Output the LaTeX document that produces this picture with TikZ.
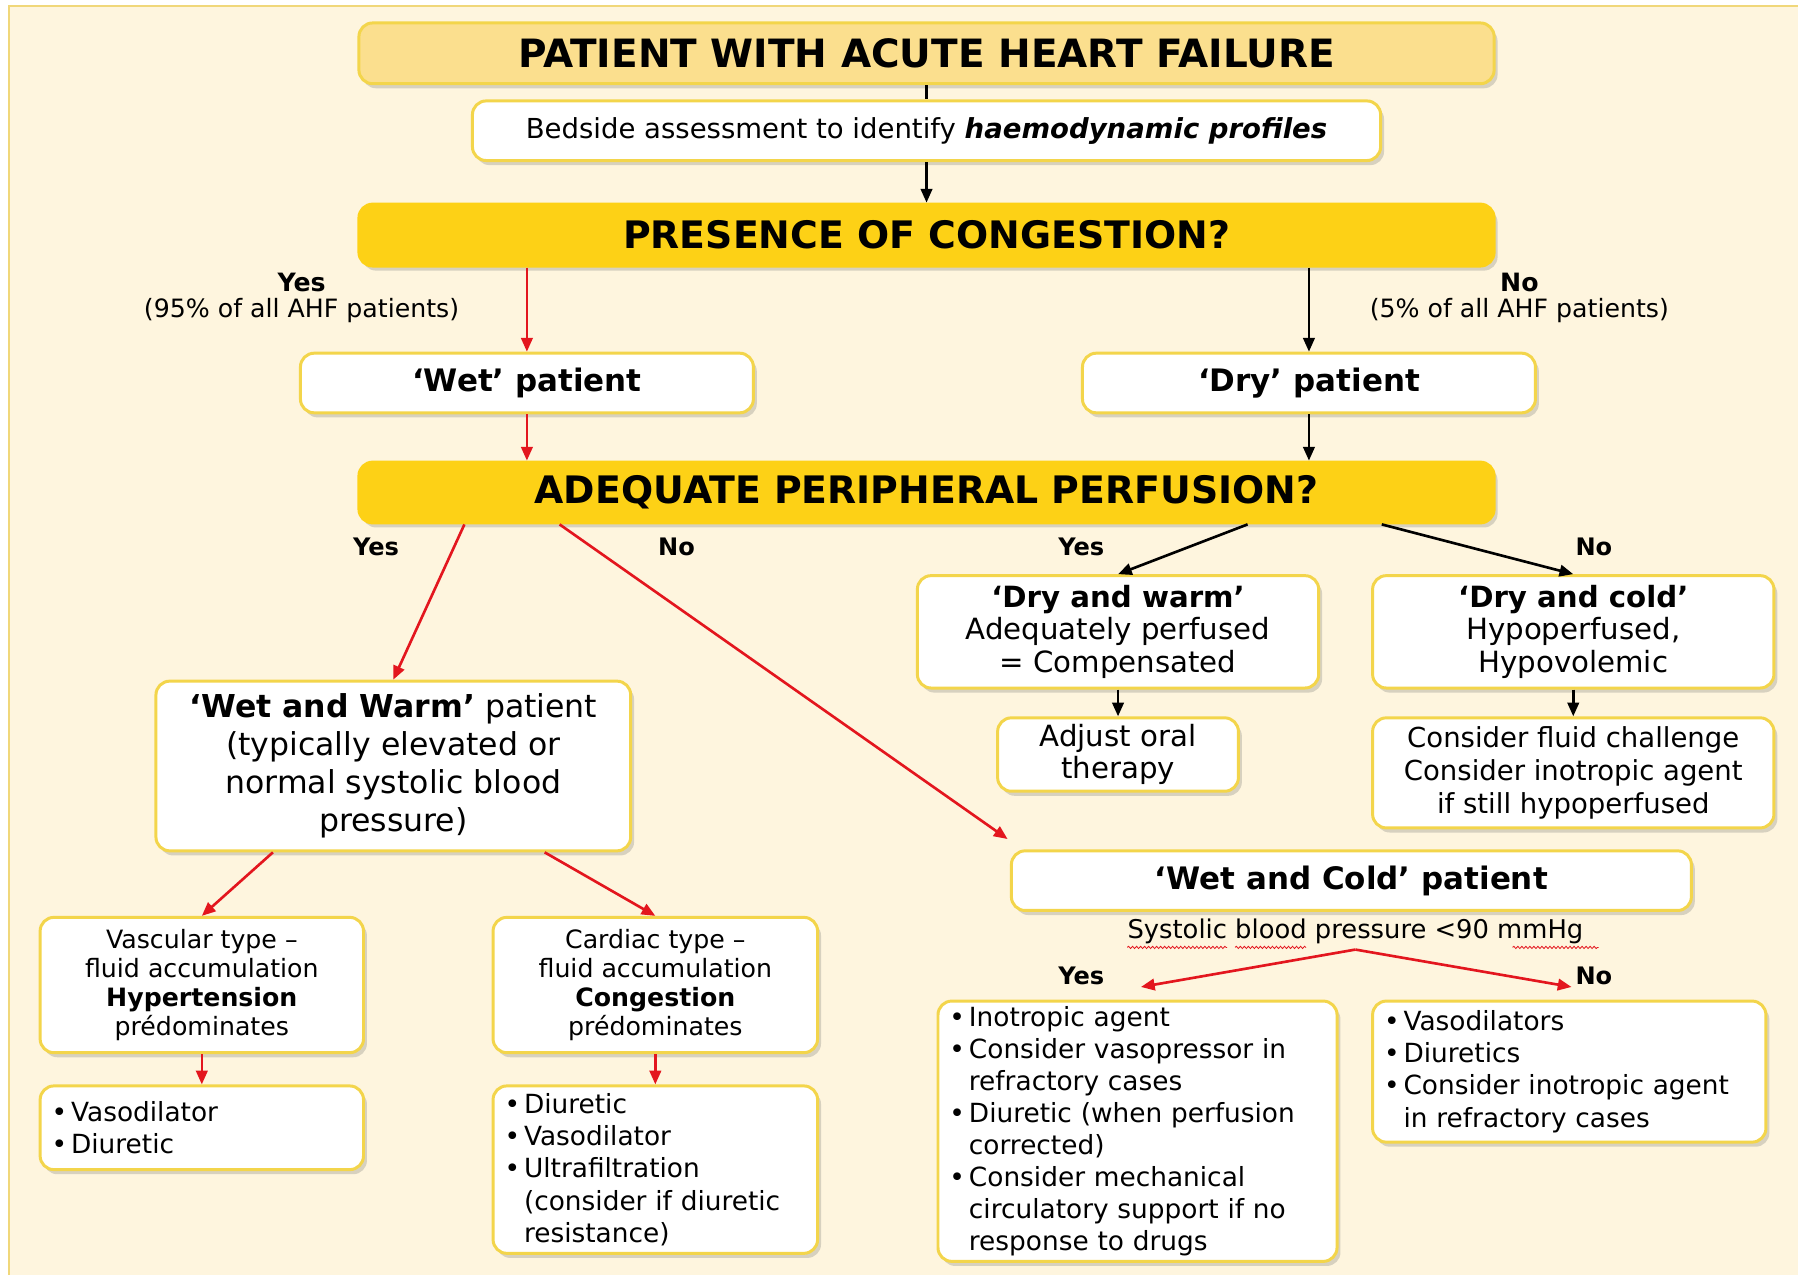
\documentclass[tikz,border=0pt]{standalone}
\usepackage{fontspec}
\setmainfont{DejaVu Sans}
\usetikzlibrary{arrows.meta,shadows,decorations.pathmorphing}
\definecolor{cream}{HTML}{FEF5DE}
\definecolor{rimline}{HTML}{F3D54B}
\definecolor{gold}{HTML}{FDD116}
\definecolor{lightgold}{HTML}{FBDF8E}
\definecolor{panelrim}{HTML}{F0D77A}
\definecolor{arrowred}{HTML}{E3161E}
\newcommand{\dotitem}{\makebox[17pt][l]{•}}
\newcommand{\contline}{\hspace*{17pt}}

\begin{document}
\begin{tikzpicture}[x=1pt,y=-1pt,
  box/.style={draw=rimline, line width=2.6pt, rounded corners=12pt, fill=white, align=center, inner sep=3pt,
    drop shadow={shadow xshift=3pt, shadow yshift=-4pt, opacity=0.25, fill=black!60}},
  question/.style={box, fill=gold, draw=gold, font=\fontsize{33}{38}\selectfont\bfseries},
  listbox/.style={box, align=left, inner xsep=10pt, font=\fontsize{23}{28}\selectfont},
  typebox/.style={box, font=\fontsize{22}{25.5}\selectfont},
  redarrow/.style={draw=arrowred, line width=2.3pt, -{Triangle[length=12pt,width=10pt]}},
  blackarrow/.style={draw=black, line width=2.3pt, -{Triangle[length=12pt,width=10pt]}},
  answer/.style={font=\fontsize{22}{23}\selectfont, align=center, inner sep=0pt},
  squiggle/.style={draw=arrowred, line width=0.7pt, decorate, decoration={snake, amplitude=1pt, segment length=3.5pt}}]
\useasboundingbox (0,0) rectangle (1568,1112);
\fill[white] (0,0) rectangle (1568,1112);
\fill[cream] (8,5) rectangle (1568,1112);
\draw[panelrim, line width=1.5pt] (8,1112) -- (8,5) -- (1568,5);

\node[box, fill=lightgold, minimum width=990, minimum height=53, font=\fontsize{34}{38}\selectfont\bfseries] (title) at (808,46.5) {PATIENT WITH ACUTE HEART FAILURE};
\node[box, minimum width=792, minimum height=52, font=\fontsize{24}{28}\selectfont] (bedside) at (808,114) {Bedside assessment to identify \textbf{\textit{haemodynamic profiles}}};
\node[question, minimum width=990, minimum height=54] (presence) at (808,205) {PRESENCE OF CONGESTION?};
\node[answer] (congyes) at (263,260) {\textbf{Yes}\\(95\% of all AHF patients)};
\node[answer] (congno) at (1325,260) {\textbf{No}\\(5\% of all AHF patients)};
\node[box, minimum width=395, minimum height=52, font=\fontsize{27}{32}\selectfont\bfseries] (wet) at (459.5,334) {‘Wet’ patient};
\node[box, minimum width=395, minimum height=52, font=\fontsize{27}{32}\selectfont\bfseries] (dry) at (1141.5,334) {‘Dry’ patient};
\node[question, minimum width=990, minimum height=53] (adequate) at (808,429.5) {ADEQUATE PERIPHERAL PERFUSION?};
\node[answer, font=\fontsize{21}{23}\selectfont\bfseries] (perfyes) at (328,477) {Yes};
\node[answer, font=\fontsize{21}{23}\selectfont\bfseries] (perfno) at (590,477) {No};
\node[answer, font=\fontsize{21}{23}\selectfont\bfseries] (dryyes) at (943,477) {Yes};
\node[answer, font=\fontsize{21}{23}\selectfont\bfseries] (dryno) at (1390,477) {No};

\node[box, minimum width=414, minimum height=148, font=\fontsize{27.5}{33}\selectfont] (wetwarm) at (343,668) {\textbf{‘Wet and Warm’} patient\\(typically elevated or\\normal systolic blood\\pressure)};
\node[box, minimum width=350, minimum height=98, font=\fontsize{25.5}{28}\selectfont] (drywarm) at (975,551) {\textbf{‘Dry and warm’}\\Adequately perfused\\= Compensated};
\node[box, minimum width=350, minimum height=98, font=\fontsize{25.5}{28}\selectfont] (drycold) at (1372,551) {\textbf{‘Dry and cold’}\\Hypoperfused,\\Hypovolemic};
\node[box, minimum width=210, minimum height=64, font=\fontsize{25.5}{28}\selectfont] (adjust) at (975,658) {Adjust oral\\therapy};
\node[box, minimum width=350, minimum height=96, font=\fontsize{24}{28.5}\selectfont] (fluid) at (1372,674) {Consider fluid challenge\\Consider inotropic agent\\if still hypoperfused};

\node[box, minimum width=593, minimum height=52, font=\fontsize{27}{32}\selectfont\bfseries] (wetcold) at (1178.5,768) {‘Wet and Cold’ patient};
\node[answer, font=\fontsize{22.5}{25}\selectfont] (sbp) at (1182,812) {Systolic blood pressure <90 mmHg};
\node[answer, font=\fontsize{21}{23}\selectfont\bfseries] (coldyes) at (943,851) {Yes};
\node[answer, font=\fontsize{21}{23}\selectfont\bfseries] (coldno) at (1390,851) {No};

\node[typebox, minimum width=282, minimum height=118] (vascular) at (176,859) {Vascular type –\\fluid accumulation\\\textbf{Hypertension}\\prédominates};
\node[typebox, minimum width=283, minimum height=118] (cardiac) at (571.5,859) {Cardiac type –\\fluid accumulation\\\textbf{Congestion}\\prédominates};
\node[listbox, minimum width=282, minimum height=73, text width=262] (vaslist) at (176,983.5) {\dotitem Vasodilator\\\dotitem Diuretic};
\node[listbox, minimum width=283, minimum height=146, text width=263] (cardlist) at (571.5,1020) {\dotitem Diuretic\\\dotitem Vasodilator\\\dotitem Ultrafiltration\\\contline(consider if diuretic\\\contline resistance)};
\node[listbox, minimum width=348, minimum height=227, text width=328] (yeslist) at (992,986.5) {\dotitem Inotropic agent\\\dotitem Consider vasopressor in\\\contline refractory cases\\\dotitem Diuretic (when perfusion\\\contline corrected)\\\dotitem Consider mechanical\\\contline circulatory support if no\\\contline response to drugs};
\node[listbox, minimum width=343, minimum height=123, text width=323] (nolist) at (1368.5,934.5) {\dotitem Vasodilators\\\dotitem Diuretics\\\dotitem Consider inotropic agent\\\contline in refractory cases};

\draw[squiggle] ([shift={(0,8)}]sbp.base west) -- ++(87,0);
\draw[squiggle] ([shift={(94,8)}]sbp.base west) -- ++(62,0);
\draw[squiggle] ([shift={(336,8)}]sbp.base west) -- ++(75,0);

\draw[line width=2.3pt] (title.south) -- (bedside.north);
\draw[blackarrow] (bedside) -- (presence);
\draw[redarrow] (presence.south -| wet.north) -- (wet.north);
\draw[blackarrow] (presence.south -| dry.north) -- (dry.north);
\draw[redarrow] (wet.south) -- (wet.south |- adequate.north);
\draw[blackarrow] (dry.south) -- (dry.south |- adequate.north);
\draw[redarrow] ([shift={(-403,0)}]adequate.south) -- (wetwarm.north);
\draw[redarrow] ([shift={(-320,0)}]adequate.south) -- ([shift={(-2,-9)}]wetcold.north west);
\draw[blackarrow] ([shift={(280,0)}]adequate.south) -- (drywarm.north);
\draw[blackarrow] ([shift={(397,0)}]adequate.south) -- (drycold.north);
\draw[blackarrow] (drywarm) -- (adjust);
\draw[blackarrow] (drycold) -- (fluid);
\draw[redarrow] ([shift={(-105,0)}]wetwarm.south) -- (vascular.north);
\draw[redarrow] ([shift={(132,0)}]wetwarm.south) -- (cardiac.north);
\draw[redarrow] (vascular) -- (vaslist);
\draw[redarrow] (cardiac) -- (cardlist);
\draw[redarrow] ([shift={(0,5)}]sbp.south) -- ([shift={(3,-11)}]yeslist.north);
\draw[redarrow] ([shift={(0,5)}]sbp.south) -- ([shift={(2,-11)}]nolist.north);
\end{tikzpicture}
\end{document}
